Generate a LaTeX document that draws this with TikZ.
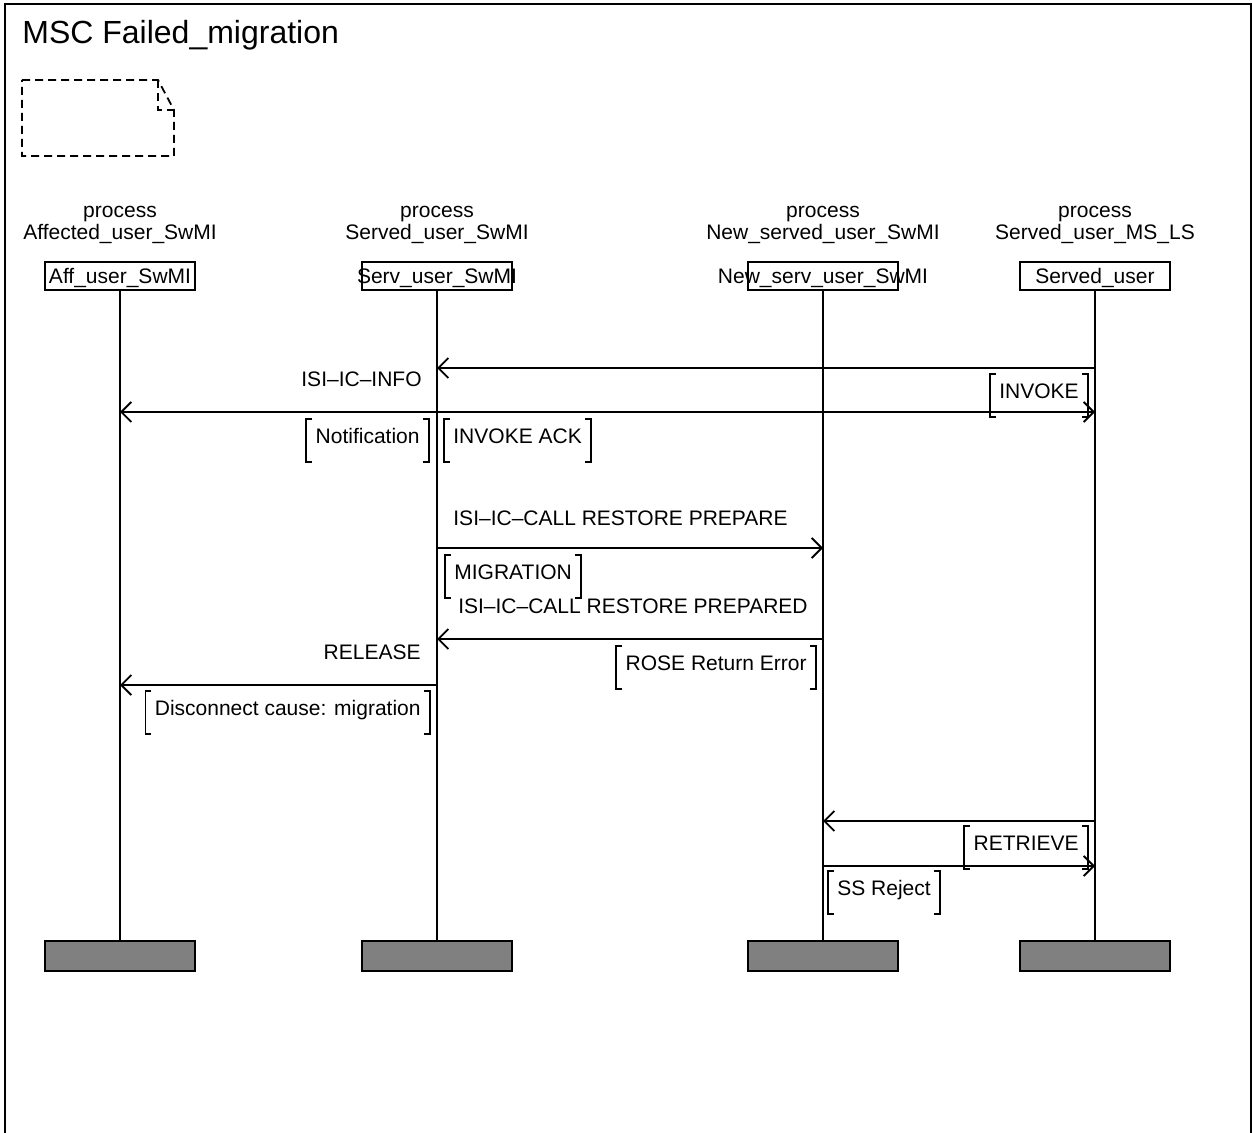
\documentclass[tikz,border=0pt]{standalone}
\usepackage{fontspec}
\setmainfont{Liberation Sans}
\usetikzlibrary{arrows.meta}

\begin{document}
\begin{tikzpicture}[x=0.5pt,y=-0.5pt]
%define

\tikzstyle{txt} = [font=\fontsize{10.5}{12}\selectfont, inner sep=0pt]
\tikzstyle{headbox} = [rectangle, minimum width=75pt, minimum height=14pt, inner sep=0pt, draw=black, fill=white, line width=0.9pt]
\tikzstyle{endbox} = [rectangle, minimum width=75pt, minimum height=15pt, inner sep=0pt, draw=black, fill=black!50, line width=0.9pt]
\tikzstyle{param} = [font=\fontsize{10.5}{12}\selectfont, minimum height=21pt, text height=7.5pt, text depth=4pt, inner xsep=4.5pt, inner ysep=0pt]
\tikzstyle{msg} = [-{Straight Barb[length=5pt,width=10pt]}, line width=0.9pt]
\tikzstyle{lifeline} = [line width=0.9pt]

\useasboundingbox (0,0) rectangle (1252,1133);

%frame
\draw[line width=1pt] (5,1145) -- (5,4) -- (1251,4) -- (1251,1145);
\node[anchor=base west, font=\fontsize{16}{19}\selectfont, inner sep=0pt] (title) at (22,44) {MSC Failed\_migration};

%comment
\draw[line width=0.9pt, dash pattern=on 4pt off 2.5pt] (22,80) -- (158,80) -- (174,110) -- (174,156) -- (22,156) -- cycle;
\draw[line width=0.9pt, dash pattern=on 4pt off 2.5pt] (158,80) -- (158,110) -- (174,110);

%instances
\node[txt, anchor=base] (pa) at (120,218) {process};
\node[txt, anchor=base] (na) at (120,240) {Affected\_user\_SwMI};
\node[txt, anchor=base] (pb) at (437,218) {process};
\node[txt, anchor=base] (nb) at (437,240) {Served\_user\_SwMI};
\node[txt, anchor=base] (pc) at (823,218) {process};
\node[txt, anchor=base] (nc) at (823,240) {New\_served\_user\_SwMI};
\node[txt, anchor=base] (pd) at (1095,218) {process};
\node[txt, anchor=base] (nd) at (1095,240) {Served\_user\_MS\_LS};

\node[headbox] (head_aff) at (120,276) {};
\node[headbox] (head_serv) at (437,276) {};
\node[headbox] (head_new) at (823,276) {};
\node[headbox] (head_user) at (1095,276) {};
\node[txt, anchor=base] at (120,284) {Aff\_user\_SwMI};
\node[txt, anchor=base] at (437,284) {Serv\_user\_SwMI};
\node[txt, anchor=base] at (823,284) {New\_serv\_user\_SwMI};
\node[txt, anchor=base] at (1095,284) {Served\_user};

\node[endbox] (end_aff) at (120,956) {};
\node[endbox] (end_serv) at (437,956) {};
\node[endbox] (end_new) at (823,956) {};
\node[endbox] (end_user) at (1095,956) {};

%lifelines
\draw[lifeline] (head_aff.south) -- (end_aff.north);
\draw[lifeline] (head_serv.south) -- (end_serv.north);
\draw[lifeline] (head_new.south) -- (end_new.north);
\draw[lifeline] (head_user.south) -- (end_user.north);

%messages
\draw[msg] (head_user |- 0,368) -- (head_serv |- 0,368); %Served_user->Serv_user_SwMI
\draw[msg] (head_serv |- 0,412) -- (head_aff |- 0,412); %Serv_user_SwMI->Aff_user_SwMI
\draw[msg] (head_serv |- 0,412) -- (head_user |- 0,412); %Serv_user_SwMI->Served_user
\draw[msg] (head_serv |- 0,548) -- (head_new |- 0,548); %Serv_user_SwMI->New_serv_user_SwMI
\draw[msg] (head_new |- 0,639) -- (head_serv |- 0,639); %New_serv_user_SwMI->Serv_user_SwMI
\draw[msg] (head_serv |- 0,685) -- (head_aff |- 0,685); %Serv_user_SwMI->Aff_user_SwMI
\draw[msg] (head_user |- 0,821) -- (head_new |- 0,821); %Served_user->New_serv_user_SwMI
\draw[msg] (head_new |- 0,866) -- (head_user |- 0,866); %New_serv_user_SwMI->Served_user

%message names
\node[txt, anchor=base east] (m_info) at (422,387) {ISI–IC–INFO};
\node[txt, anchor=base west] (m_prep) at (453,525) {ISI–IC–CALL RESTORE PREPARE};
\node[txt, anchor=base east] (m_prepd) at (808,613) {ISI–IC–CALL RESTORE PREPARED};
\node[txt, anchor=base east] (m_rel) at (421,659) {RELEASE};

%parameters
\node[param, anchor=north east] (p_invoke) at (1088,374) {INVOKE};
\node[param, anchor=north east] (p_notif) at (429,419) {Notification};
\node[param, anchor=north west] (p_ack) at (444,419) {INVOKE ACK};
\node[param, anchor=north west] (p_migr) at (445,555) {MIGRATION};
\node[param, anchor=north east] (p_rose) at (816,646) {ROSE Return Error};
\node[param, anchor=north east] (p_disc) at (430,691) {Disconnect cause: migration};
\node[param, anchor=north east] (p_retr) at (1088,826) {RETRIEVE};
\node[param, anchor=north west] (p_rej) at (828,871) {SS Reject};

%brackets
\foreach \p in {p_invoke,p_notif,p_ack,p_migr,p_rose,p_disc,p_retr,p_rej}{
  \draw[line width=0.9pt] ([xshift=3pt]\p.north west) -| (\p.south west) -- ++(3pt,0);
  \draw[line width=0.9pt] ([xshift=-3pt]\p.north east) -| (\p.south east) -- ++(-3pt,0);
}

\end{tikzpicture}
\end{document}
